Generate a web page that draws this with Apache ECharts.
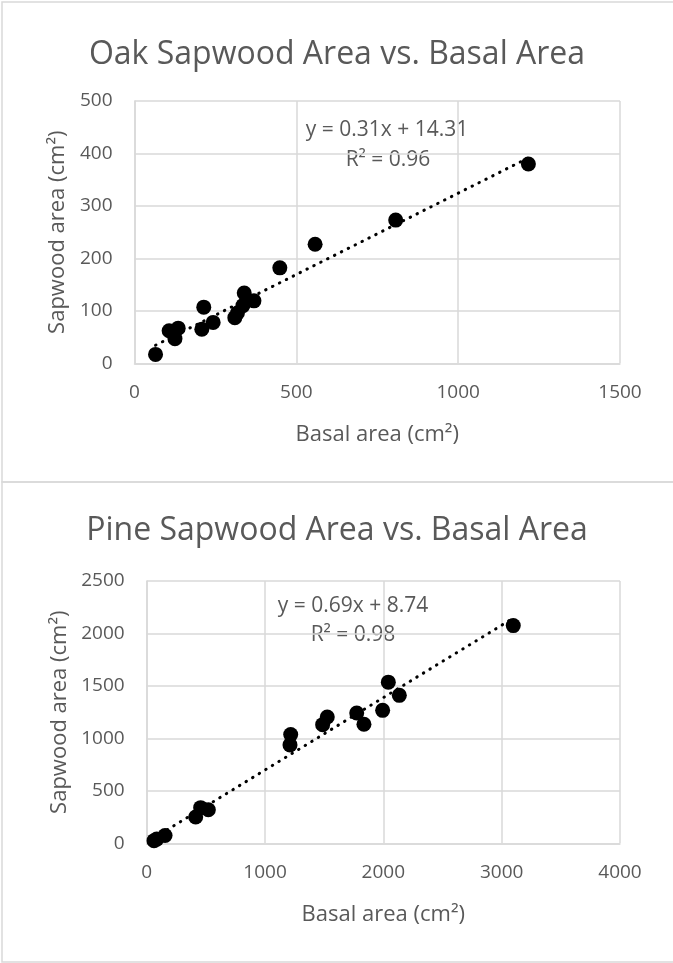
<!DOCTYPE html>
<html><head><meta charset="utf-8">
<script src="https://cdn.jsdelivr.net/npm/echarts@6/dist/echarts.min.js"></script>
<style>html,body{margin:0;padding:0;background:#fff}#c{width:673px;height:963px}</style>
</head><body><div id="c"></div>
<script>
// ---- data ----
const oakTitle = 'Oak Sapwood Area vs. Basal Area';
const pineTitle = 'Pine Sapwood Area vs. Basal Area';
const xAxisName = 'Basal area (cm²)';
const yAxisName = 'Sapwood area (cm²)';

const oakBasal   = [65, 107, 135, 125, 214, 208, 243, 310, 318, 335, 339, 369, 449, 558, 807, 1217];
const oakSapwood = [17,  62,  67,  47, 107,  65,  78,  87,  96, 110, 134, 119, 182, 227, 273,  380];
const oakFit = { slope: 0.31, intercept: 14.31, eq: 'y = 0.31x + 14.31', r2: 'R² = 0.96' };

const pineBasal   = [62, 85, 155, 414, 456, 521, 1211, 1217, 1487, 1526, 1775, 1836, 1994, 2042, 2135, 3098];
const pineSapwood = [25, 40,  75, 250, 340, 320,  938, 1036, 1131, 1204, 1242, 1134, 1267, 1536, 1410, 2075];
const pineFit = { slope: 0.69, intercept: 8.74, eq: 'y = 0.69x + 8.74', r2: 'R² = 0.98' };

const oakXTicks = { min: 0, max: 1500, interval: 500 };
const oakYTicks = { min: 0, max: 500, interval: 100 };
const pineXTicks = { min: 0, max: 4000, interval: 1000 };
const pineYTicks = { min: 0, max: 2500, interval: 500 };

// ---- helpers ----
const FONT = '"Open Sans", "Noto Sans", sans-serif';
const TXT = '#595959';
const GRID = '#d9d9d9';
function pts(xs, ys) { return xs.map((x, i) => [x, ys[i]]); }
function fitLine(xs, fit) {
  const lo = Math.min(...xs), hi = Math.max(...xs);
  return [[lo, fit.slope * lo + fit.intercept], [hi, fit.slope * hi + fit.intercept]];
}
function xAxis(idx, t) {
  return {
    gridIndex: idx, type: 'value', min: t.min, max: t.max, interval: t.interval,
    name: xAxisName, nameLocation: 'middle', nameGap: 60,
    nameTextStyle: { color: TXT, fontSize: 22, fontFamily: FONT },
    axisLine: { show: true, lineStyle: { color: GRID, width: 1.5 } },
    axisTick: { show: false },
    axisLabel: { color: TXT, fontSize: 19, fontFamily: FONT, margin: 20, formatter: v => String(v) },
    splitLine: { show: true, lineStyle: { color: GRID, width: 1.5 } }
  };
}
function yAxis(idx, t) {
  return {
    gridIndex: idx, type: 'value', min: t.min, max: t.max, interval: t.interval,
    name: yAxisName, nameLocation: 'middle', nameGap: 66, nameRotate: 90,
    nameTextStyle: { color: TXT, fontSize: 22, fontFamily: FONT },
    axisLine: { show: true, lineStyle: { color: GRID, width: 1.5 } },
    axisTick: { show: false },
    axisLabel: { color: TXT, fontSize: 19, fontFamily: FONT, margin: 22, formatter: v => String(v) },
    splitLine: { show: true, lineStyle: { color: GRID, width: 1.5 } }
  };
}
function scatter(idx, data) {
  return { type: 'scatter', xAxisIndex: idx, yAxisIndex: idx, data: data,
    symbol: 'circle', symbolSize: 15, itemStyle: { color: '#000', opacity: 1 }, z: 3, silent: true };
}
function trend(idx, data) {
  return { type: 'line', xAxisIndex: idx, yAxisIndex: idx, data: data, symbol: 'none',
    lineStyle: { color: '#000', width: 3, type: [0.5, 7.2], cap: 'round' }, z: 4, silent: true };
}
function text(x, y, s, size) {
  return { type: 'text', x: x, y: y, style: { text: s, fill: TXT, font: size + 'px ' + FONT,
    textAlign: 'center', textVerticalAlign: 'middle' } };
}

const chart = echarts.init(document.getElementById('c'), null, { renderer: 'canvas' });
chart.setOption({
  animation: false,
  backgroundColor: '#fff',
  grid: [
    { left: 134.5, right: 53, top: 101, bottom: 599.7 },
    { left: 146.7, right: 53, top: 581, bottom: 119.7 }
  ],
  xAxis: [xAxis(0, oakXTicks), xAxis(1, pineXTicks)],
  yAxis: [yAxis(0, oakYTicks), yAxis(1, pineYTicks)],
  series: [
    scatter(0, pts(oakBasal, oakSapwood)),
    trend(0, fitLine(oakBasal, oakFit)),
    scatter(1, pts(pineBasal, pineSapwood)),
    trend(1, fitLine(pineBasal, pineFit))
  ],
  graphic: [
    { type: 'rect', shape: { x: 2, y: 2, width: 700, height: 480 }, style: { fill: 'none', stroke: GRID, lineWidth: 1.5 } },
    { type: 'rect', shape: { x: 2, y: 482, width: 700, height: 480 }, style: { fill: 'none', stroke: GRID, lineWidth: 1.5 } },
    text(337, 55, oakTitle, 32),
    text(337, 531, pineTitle, 32),
    text(387, 130, oakFit.eq, 21),
    text(388, 160, oakFit.r2, 21),
    text(353, 606, pineFit.eq, 21),
    text(353, 635, pineFit.r2, 21)
  ]
});
</script></body></html>
